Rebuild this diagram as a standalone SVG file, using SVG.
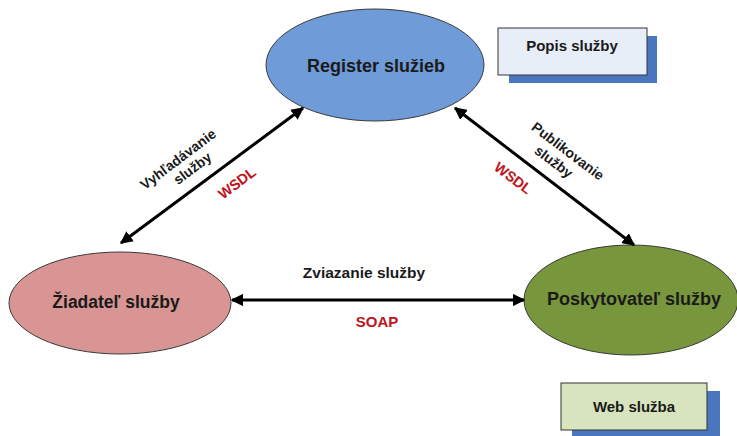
<svg xmlns="http://www.w3.org/2000/svg" width="737" height="436" viewBox="0 0 737 436">
<defs>
<marker id="ah" viewBox="0 0 10 10" refX="9" refY="5" markerWidth="4.2" markerHeight="4.2" orient="auto-start-reverse" markerUnits="strokeWidth">
<path d="M0,0 L10,5 L0,10 Z" fill="#000"/>
</marker>
</defs>
<style>
text{font-family:"Liberation Sans",Arial,sans-serif;font-weight:bold;fill:#1a1a1a;text-anchor:middle}
.red{fill:#c0141c}
.node{stroke:#3a3a3a;stroke-width:1}
.conn line{stroke:#000;stroke-width:3;marker-start:url(#ah);marker-end:url(#ah)}
</style>
<rect width="737" height="436" fill="#fff"/>
<g id="register">
<ellipse class="node" cx="375" cy="65" rx="109" ry="56" fill="#6f9bd8"/>
<text x="376" y="72" font-size="18">Register služieb</text>
</g>
<g id="ziadatel">
<ellipse class="node" cx="120" cy="303" rx="111" ry="51" fill="#d99594"/>
<text x="116" y="308" font-size="17.5">Žiadateľ služby</text>
</g>
<g id="poskytovatel">
<ellipse class="node" cx="631" cy="300" rx="107" ry="55" fill="#78963c"/>
<text x="634" y="305" font-size="18">Poskytovateľ služby</text>
</g>
<g id="popis">
<rect x="509" y="36" width="148" height="47" fill="#4a76c0"/>
<rect x="498" y="28" width="149" height="47" fill="#e8eef8" stroke="#333" stroke-width="1"/>
<text x="572" y="51" font-size="15">Popis služby</text>
</g>
<g id="web">
<rect x="572" y="391" width="148" height="45" fill="#4a76c0"/>
<rect x="561" y="383" width="146" height="47" fill="#d7e4bd" stroke="#333" stroke-width="1"/>
<text x="634" y="412" font-size="15">Web služba</text>
</g>
<g id="connectors" class="conn">
<line x1="121" y1="243" x2="303" y2="108"/>
<line x1="455" y1="108" x2="634" y2="245"/>
<line x1="232" y1="300" x2="524" y2="300"/>
</g>
<g id="labels">
<g transform="translate(181,163) rotate(-37)">
<text x="0" y="0" font-size="14">Vyhľadávanie</text>
<text x="6" y="16" font-size="14">služby</text>
</g>
<text class="red" font-size="14.5" transform="translate(240,187) rotate(-37)">WSDL</text>
<g transform="translate(565,155) rotate(37)">
<text x="0" y="0" font-size="14">Publikovanie</text>
<text x="-5" y="17" font-size="14">služby</text>
</g>
<text class="red" font-size="14.5" transform="translate(510,182) rotate(37)">WSDL</text>
<text x="364" y="278" font-size="15.5">Zviazanie služby</text>
<text class="red" x="377" y="327" font-size="15">SOAP</text>
</g>
</svg>
